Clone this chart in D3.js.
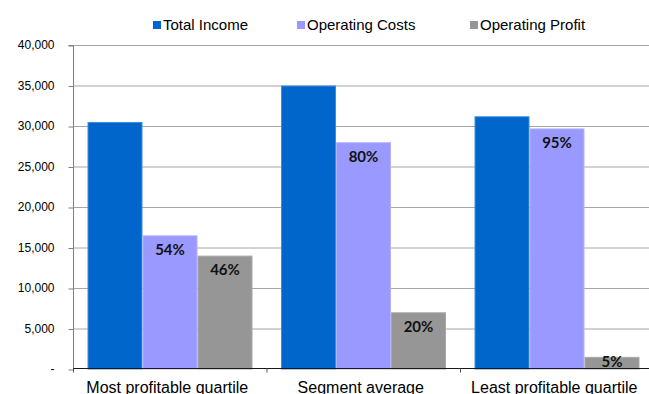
<!DOCTYPE html>
<html><head><meta charset="utf-8">
<script src="https://cdn.jsdelivr.net/npm/d3@7"></script>
<style>
html,body{margin:0;padding:0;background:#fff;overflow:hidden;}
svg{display:block;}
</style></head>
<body>
<svg id="chart" width="649" height="394"></svg>
<script>
const categories = ["Most profitable quartile", "Segment average", "Least profitable quartile"];
const seriesNames = ["Total Income", "Operating Costs", "Operating Profit"];
const totalIncome = [30500, 35000, 31200];
const operatingCosts = [16500, 28000, 29700];
const operatingProfit = [14000, 7000, 1500];
const costLabels = ["54%", "80%", "95%"];
const profitLabels = ["46%", "20%", "5%"];
const yTicks = [0, 5000, 10000, 15000, 20000, 25000, 30000, 35000, 40000];
const colors = ["#0066CC", "#9999FF", "#969696"];
const strokes = ["#3d8ee0", "#b3b3ff", "#a8a8a8"];

const seriesValues = [totalIncome, operatingCosts, operatingProfit];
const seriesLabels = [null, costLabels, profitLabels];

const svg = d3.select("#chart");
const mLeft = 73, mRight = 653.5, mTop = 45, mBottom = 369;

const x0 = d3.scaleBand().domain(categories).range([mLeft, mRight]).paddingInner(0).paddingOuter(0);
const x1 = d3.scaleBand().domain(seriesNames).range([14.5, 179.5]).padding(0);
const y = d3.scaleLinear().domain([0, 40000]).range([mBottom, mTop]);

// gridlines
svg.append("g").selectAll("line").data(yTicks.filter(d => d > 0)).join("line")
  .attr("x1", mLeft).attr("x2", 649)
  .attr("y1", d => y(d) + 0.5).attr("y2", d => y(d) + 0.5)
  .attr("stroke", "#a6a6a6").attr("stroke-width", 1);

// y axis
const yAxis = svg.append("g").attr("transform", `translate(${mLeft + 0.5},0)`)
  .call(d3.axisLeft(y).tickValues(yTicks).tickSize(5).tickPadding(14)
    .tickFormat(d => d === 0 ? "-" : d3.format(",")(d)));
yAxis.select(".domain").attr("stroke", "#808080").attr("d", `M-5,${mTop + 0.5}H0V${mBottom + 0.5}`);
yAxis.selectAll(".tick line").attr("stroke", "#808080").attr("transform", "translate(0,0.5)");
yAxis.selectAll("text").attr("font-family", "Liberation Sans, Arial, sans-serif")
  .attr("font-size", "12px").attr("fill", "#000");

// clip for plot
svg.append("clipPath").attr("id", "plotclip").append("rect")
  .attr("x", mLeft).attr("y", 0).attr("width", 649 - mLeft).attr("height", mBottom - 0.5);

// bars
const groups = svg.append("g").selectAll("g").data(categories).join("g")
  .attr("transform", d => `translate(${x0(d)},0)`);

seriesNames.forEach((s, si) => {
  groups.append("rect")
    .attr("x", (d, i) => x1(s) + 0.5)
    .attr("y", (d, i) => y(seriesValues[si][i]) + 0.5)
    .attr("width", x1.bandwidth() - 1)
    .attr("height", (d, i) => mBottom - y(seriesValues[si][i]) - 0.5)
    .attr("fill", colors[si])
    .attr("stroke", strokes[si]).attr("stroke-width", 1);
});

// labels (inside end, clamped near the axis for short bars)
const labelG = svg.append("g").attr("clip-path", "url(#plotclip)");
seriesNames.forEach((s, si) => {
  if (!seriesLabels[si]) return;
  categories.forEach((c, i) => {
    labelG.append("text")
      .attr("x", x0(c) + x1(s) + x1.bandwidth() / 2)
      .attr("y", Math.min(y(seriesValues[si][i]) + 19.5, mBottom - 2))
      .attr("text-anchor", "middle")
      .attr("font-family", "Lato, Carlito, sans-serif")
      .attr("font-weight", 700).attr("font-size", "15px").attr("fill", "#111")
      .text(seriesLabels[si][i]);
  });
});

// x axis
const xAxis = svg.append("g").attr("transform", `translate(0,${mBottom - 0.5})`);
xAxis.append("line").attr("x1", mLeft).attr("x2", 649).attr("y1", 0).attr("y2", 0)
  .attr("stroke", "#1a1a1a").attr("stroke-width", 1);
categories.forEach((c) => {
  xAxis.append("line").attr("x1", x0(c) + 0.5).attr("x2", x0(c) + 0.5)
    .attr("y1", 0).attr("y2", 4).attr("stroke", "#555");
  xAxis.append("text").attr("x", x0(c) + x0.bandwidth() / 2 - 2.5).attr("y", 24)
    .attr("text-anchor", "middle")
    .attr("font-family", "Liberation Sans, Arial, sans-serif")
    .attr("font-size", "16px").attr("fill", "#000").text(c);
});

// legend
const legendX = [153, 297, 470];
const legend = svg.append("g");
seriesNames.forEach((s, si) => {
  legend.append("rect").attr("x", legendX[si]).attr("y", 21).attr("width", 8).attr("height", 8)
    .attr("fill", colors[si]);
  legend.append("text").attr("x", legendX[si] + 10).attr("y", 30)
    .attr("font-family", "Liberation Sans, Arial, sans-serif")
    .attr("font-size", "15px").attr("fill", "#000").text(s);
});
</script>
</body></html>
